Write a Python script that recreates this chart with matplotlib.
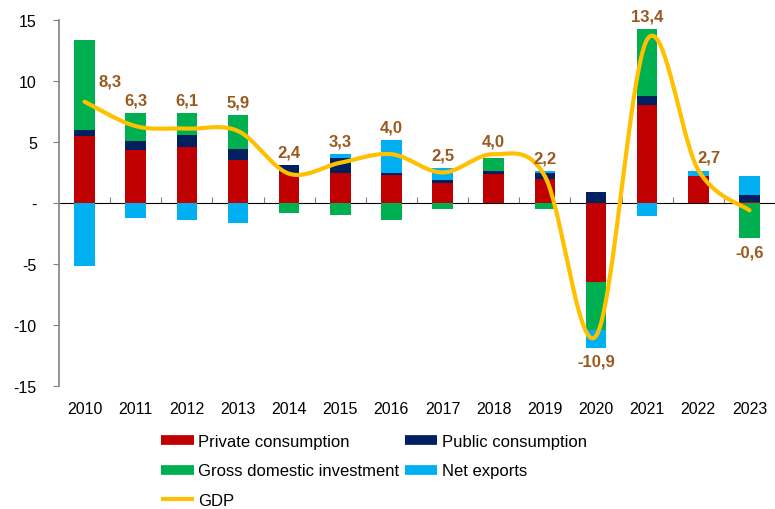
import numpy as np
import matplotlib
matplotlib.use("Agg")
import matplotlib.pyplot as plt
from matplotlib.lines import Line2D

years = ["2010", "2011", "2012", "2013", "2014", "2015", "2016",
         "2017", "2018", "2019", "2020", "2021", "2022", "2023"]
private = [5.5, 4.35, 4.55, 3.5, 2.45, 2.5, 2.3, 1.6, 2.4, 2.0, -6.45, 8.0, 2.25, 0.05]
public = [0.5, 0.7, 1.0, 0.9, 0.65, 1.2, 0.2, 0.3, 0.25, 0.5, 0.9, 0.75, 0.0, 0.6]
investment = [7.4, 2.3, 1.8, 2.8, -0.85, -0.95, -1.4, -0.5, 1.0, -0.5, -3.95, 5.55, 0.0, -2.9]
net_exports = [-5.2, -1.2, -1.4, -1.6, 0.0, 0.35, 2.7, 0.95, 0.0, 0.1, -1.45, -1.05, 0.35, 1.6]
gdp = [8.3, 6.3, 6.1, 5.9, 2.4, 3.3, 4.0, 2.5, 4.0, 2.2, -10.9, 13.4, 2.7, -0.6]

RED, NAVY, GREEN, BLUE, GOLD = "#C00000", "#002060", "#00B050", "#00B0F0", "#FFC000"
LABEL = "#9A5A1F"


def smooth(xs, ys, n=40):
    # catmull-rom style bezier, like the spreadsheet "smoothed line"
    p = np.column_stack([xs, ys]).astype(float)
    p = np.vstack([p[0], p, p[-1]])
    out = []
    t = np.linspace(0, 1, n)[:, None]
    for i in range(1, len(p) - 2):
        p0, p1, p2, p3 = p[i - 1], p[i], p[i + 1], p[i + 2]
        b1 = p1 + (p2 - p0) / 6
        b2 = p2 - (p3 - p1) / 6
        seg = ((1 - t) ** 3) * p1 + 3 * ((1 - t) ** 2) * t * b1 + 3 * (1 - t) * t ** 2 * b2 + t ** 3 * p2
        out.append(seg)
    out = np.vstack(out)
    return out[:, 0], out[:, 1]


plt.rcParams['font.family'] = ['Liberation Sans', 'DejaVu Sans']

fig = plt.figure(figsize=(7.75, 5.1), dpi=100)
ax = fig.add_axes([59 / 775, 123 / 510, 716 / 775, 366 / 510])

x = np.arange(len(years))
pos_base = np.zeros(len(years))
neg_base = np.zeros(len(years))
for vals, col in [(private, RED), (public, NAVY), (investment, GREEN), (net_exports, BLUE)]:
    v = np.array(vals)
    bottoms = np.where(v >= 0, pos_base, neg_base)
    ax.bar(x, v, 0.4, bottom=bottoms, color=col, edgecolor="none", zorder=2)
    pos_base = pos_base + np.where(v > 0, v, 0)
    neg_base = neg_base + np.where(v < 0, v, 0)

sx, sy = smooth(x, gdp)
ax.plot(sx, sy, color=GOLD, lw=3, zorder=3, solid_capstyle="round")

for i, g in enumerate(gdp):
    txt = f"{g:.1f}".replace(".", ",")
    if i == 0:
        ax.text(x[i] + 0.5, g + 1.7, txt, ha="center", va="center",
                color=LABEL, fontsize=12, fontweight="bold", zorder=4)
    elif g >= 0:
        ax.text(x[i] + (0.2 if i == 12 else 0), max(pos_base[i], g) + 0.45, txt,
                ha="center", va="bottom", color=LABEL, fontsize=12, fontweight="bold", zorder=4)
    else:
        ax.text(x[i], min(neg_base[i], g) - 0.5, txt, ha="center", va="top",
                color=LABEL, fontsize=12, fontweight="bold", zorder=4)

ax.set_xlim(-0.5, len(years) - 0.5)
ax.set_ylim(-15, 15)
ax.set_yticks([-15, -10, -5, 0, 5, 10, 15])
ax.set_yticklabels(["-15", "-10", "-5", "-", "5", "10", "15"])
ax.set_xticks(x)
ax.set_xticklabels(years)
ax.tick_params(axis="x", length=0, labelsize=11.5, pad=11)
ax.tick_params(axis="y", length=4.5, color="#808080", labelsize=11.5, pad=11.5)

for s in ["top", "right", "bottom"]:
    ax.spines[s].set_visible(False)
ax.spines["left"].set_color("#808080")
ax.spines["left"].set_linewidth(1.2)

# zero line with category ticks
zero = ax.secondary_xaxis(0.5)
zero.set_xticks(np.arange(0.5, len(years) - 0.5, 1.0))
zero.set_xticklabels([])
zero.tick_params(length=4, color="#808080", direction="out")
zero.spines["bottom"].set_color("#808080")
zero.spines["bottom"].set_linewidth(1.2)

handles = [
    Line2D([], [], color=RED, lw=7, solid_capstyle="butt"),
    Line2D([], [], color=GREEN, lw=7, solid_capstyle="butt"),
    Line2D([], [], color=GOLD, lw=3, solid_capstyle="butt"),
    Line2D([], [], color=NAVY, lw=7, solid_capstyle="butt"),
    Line2D([], [], color=BLUE, lw=7, solid_capstyle="butt"),
]
labels = ["Private consumption", "Gross domestic investment", "GDP",
          "Public consumption", "Net exports"]
fig.legend(handles, labels, ncol=2, frameon=False, fontsize=12,
           loc="upper left", bbox_to_anchor=(161 / 775, 1 - 435 / 510),
           handlelength=1.95, handletextpad=0.3, columnspacing=0.3,
           labelspacing=0.86, borderpad=0, borderaxespad=0)

fig.savefig("out.png", dpi=100)
